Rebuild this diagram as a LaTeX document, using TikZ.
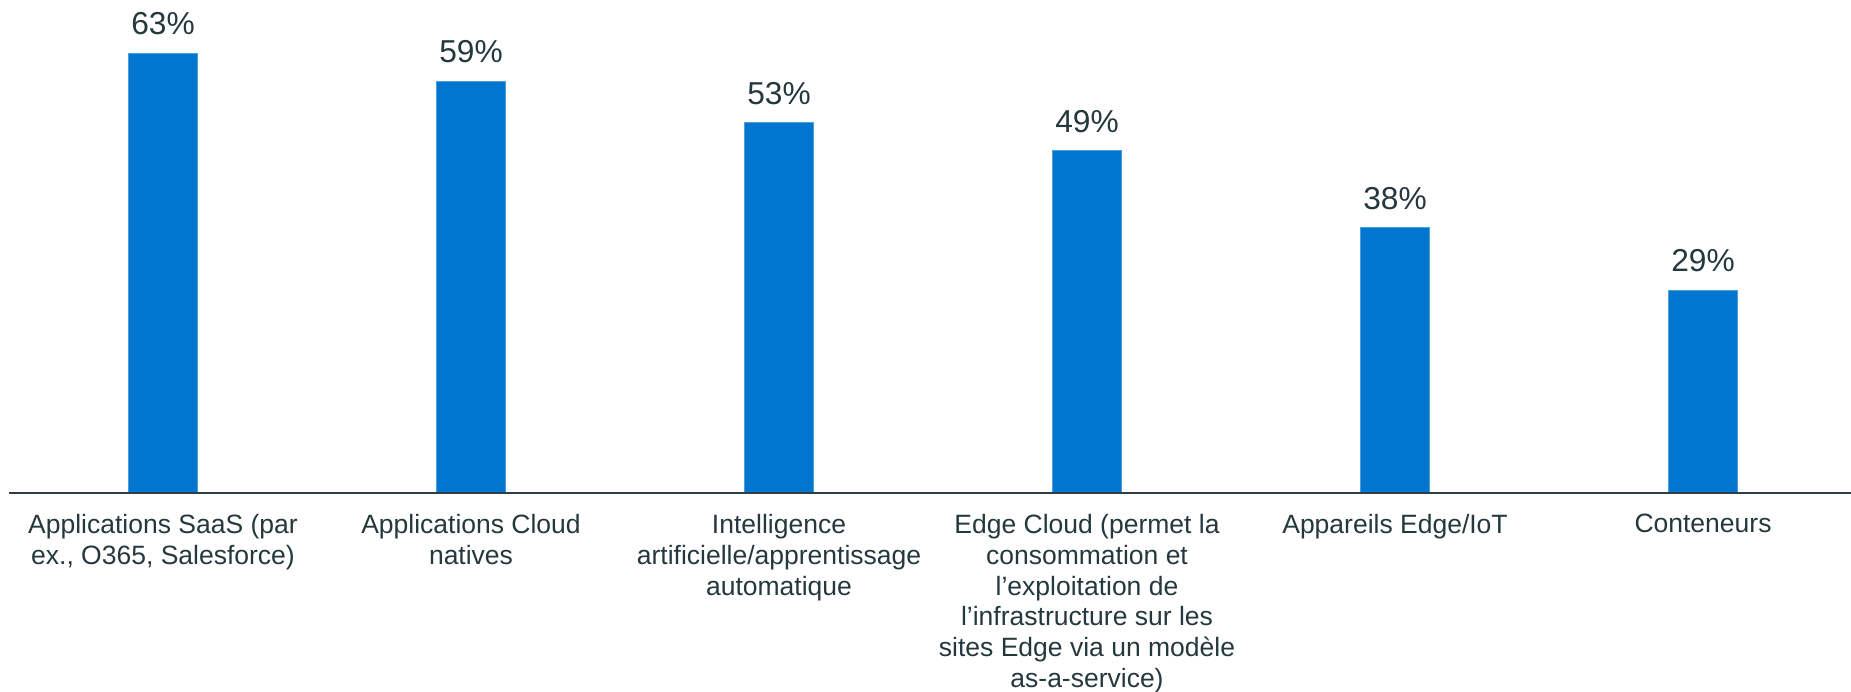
\documentclass[tikz,border=0pt]{standalone}
\usepackage{fontspec}
\setmainfont{Liberation Sans}
\definecolor{barblue}{RGB}{0,118,206}
\definecolor{txt}{RGB}{36,56,62}
\definecolor{axisc}{RGB}{46,62,68}
\tikzset{
  bar/.style={fill=barblue, draw=barblue!70!white, line width=0.6pt},
  pct/.style={anchor=base, inner sep=0pt, text=txt, font=\fontsize{31.7}{36}\selectfont},
  cat/.style={anchor=north, inner sep=0pt, align=center, text=txt, font=\fontsize{26.5}{30.8}\selectfont},
  axisline/.style={draw=axisc, line width=2pt}
}
\begin{document}
\begin{tikzpicture}[x=1pt,y=1pt]
\useasboundingbox (0,0) rectangle (1851,691);
\def\axy{198.3}
\def\hw{34.3}
\def\sc{6.98}
% bars
\foreach \i/\cx/\v in {1/163/63, 2/471/59, 3/779/53, 4/1087/49, 5/1395/38, 6/1703/29}{
  \path[bar] (\cx-\hw,\axy) rectangle (\cx+\hw,\axy+\v*\sc);
  \coordinate (top\i) at (\cx,\axy+\v*\sc);
  \node[pct] (p\i) at (\cx,\axy+\v*\sc+18.3) {\v\%};
}
\coordinate (al) at (9,\axy);
\coordinate (ar) at (1851,\axy);
\draw[axisline] (al) -- (ar);
\node[cat] (c1) at (163,177) {Applications SaaS (par\\ex., O365, Salesforce)};
\node[cat] (c2) at (471,177) {Applications Cloud\\natives};
\node[cat] (c3) at (779,177) {Intelligence\\artificielle/apprentissage\\automatique};
\node[cat] (c4) at (1087,177) {Edge Cloud (permet la\\consommation et\\l’exploitation de\\l’infrastructure sur les\\sites Edge via un modèle\\as-a-service)};
\node[cat] (c5) at (1395,177) {Appareils Edge/IoT};
\node[cat] (c6) at (1703,177) {Conteneurs};
\end{tikzpicture}
\end{document}
